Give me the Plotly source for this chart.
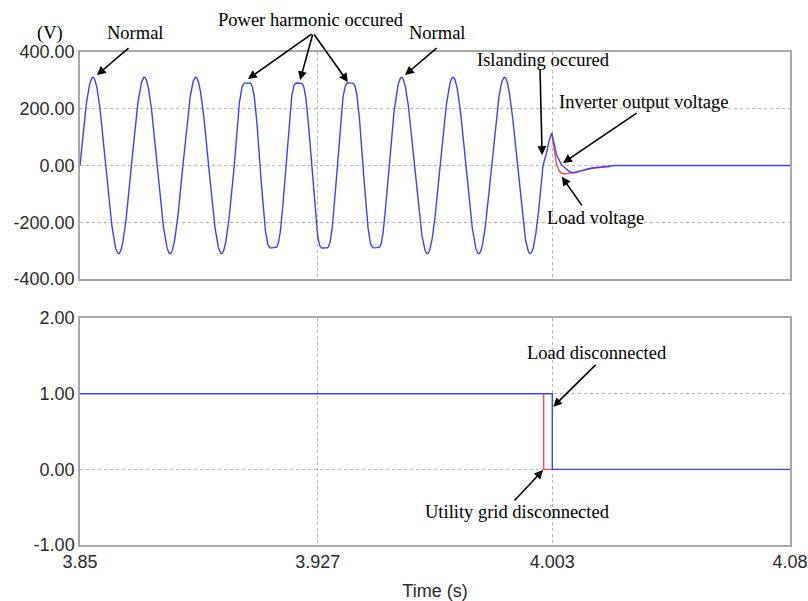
import numpy as np
import plotly.graph_objects as go
from plotly.subplots import make_subplots

# ---- values ----
T_START, T_END = 3.85, 4.08
FREQ_HZ = 60.0                      # 9 cycles between 3.85 s and 4.00 s
NORMAL_AMPS = [311.0]               # fundamental peak (V)
HARM_ORDERS = [1, 3, 5]
HARM_AMPS = [326.0, 33.0, -3.0]     # distorted cycles: flat tops at ~290 V
HARM_WINDOW = [3.90, 3.95]          # cycles 4-6 carry the harmonics
ISLAND_T = 4.000                    # waveform leaves the grid sine here

# transient after islanding (read point by point)
INV_T = [4.0012, 4.0019, 4.0028, 4.0036, 4.0044, 4.0060, 4.0071, 4.0087, 4.0103, 4.0125, 4.0158, 4.0201, 4.0233, 4.0800]
INV_V = [47, 85, 115, 78, 37, 2, -9, -23, -26, -18, -9, -3, 0, 0]
# load voltage differs from the inverter output only after the peak
LOAD_T = [4.0028, 4.0036, 4.0044, 4.0055, 4.0066, 4.0093, 4.0125, 4.0168, 4.0217]
LOAD_V = [115, 59, 6, -23, -29, -26, -18, -9, -5]

# disconnect signals (red drawn below blue; only its distinct part is kept)
GRID_SW_T = [4.0002, 4.0002, 4.003]
GRID_SW_S = [1, 0, 0]
LOAD_SW_T = [3.85, 4.003, 4.08]
LOAD_SW_S = [1, 0, 0]

X_TICKS = [3.85, 3.927, 4.003, 4.08]
X_TICK_TEXT = ["3.85", "3.927", "4.003", "4.08"]
Y1_TICKS = [-400, -200, 0, 200, 400]
Y1_TEXT = ["-400.00", "-200.00", "0.00", "200.00", "400.00"]
Y2_TICKS = [-1, 0, 1, 2]
Y2_TEXT = ["-1.00", "0.00", "1.00", "2.00"]

BLUE = "#4040ff"
RED = "#ff4a4a"

# ---- build the grid-side waveform ----
t = np.linspace(T_START, ISLAND_T, 3001)
theta = 2 * np.pi * FREQ_HZ * (t - T_START)
v = NORMAL_AMPS[0] * np.sin(theta)
mask = (t >= HARM_WINDOW[0]) & (t <= HARM_WINDOW[1])
vh = sum(a * np.sin(n * theta) for n, a in zip(HARM_ORDERS, HARM_AMPS))
v = np.where(mask, vh, v)

t_inv = np.concatenate([t, INV_T])
v_inv = np.concatenate([v, INV_V])

fig = make_subplots(rows=2, cols=1, shared_xaxes=True, vertical_spacing=0.0792)

fig.add_trace(go.Scatter(x=LOAD_T, y=LOAD_V, mode="lines", line=dict(color=RED, width=1.4, shape="spline", smoothing=0.6)), row=1, col=1)
fig.add_trace(go.Scatter(x=t_inv, y=v_inv, mode="lines", line=dict(color=BLUE, width=1.4)), row=1, col=1)
fig.add_trace(go.Scatter(x=GRID_SW_T, y=GRID_SW_S, mode="lines", line=dict(color=RED, width=1.4)), row=2, col=1)
fig.add_trace(go.Scatter(x=LOAD_SW_T, y=LOAD_SW_S, mode="lines", line=dict(color=BLUE, width=1.4, shape="hv")), row=2, col=1)

tick_font = dict(family="Liberation Sans, Arial, sans-serif", size=18, color="#2a2a2a")
axis_common = dict(showline=True, mirror=True, linecolor="#a8a8a8", linewidth=1.5,
                   showgrid=True, gridcolor="#b4b4b4", gridwidth=1, griddash="dot",
                   zeroline=False, ticks="", tickfont=tick_font, automargin=False)

fig.update_xaxes(range=[T_START, T_END], tickvals=X_TICKS, ticktext=X_TICK_TEXT, **axis_common)
fig.update_xaxes(showticklabels=False, row=1, col=1)
fig.update_xaxes(title=dict(text="Time (s)", font=tick_font, standoff=14), row=2, col=1)
fig.update_yaxes(range=[-400, 400], tickvals=Y1_TICKS, ticktext=Y1_TEXT, **axis_common, row=1, col=1)
fig.update_yaxes(range=[-1, 2], tickvals=Y2_TICKS, ticktext=Y2_TEXT, **axis_common, row=2, col=1)

ann_font = dict(family="Liberation Serif, Times New Roman, serif", size=18.5, color="#000000")
anns = []

def text(s, x, y):
    anns.append(dict(text=s, x=x, y=y, xref="paper", yref="paper", showarrow=False,
                     font=ann_font, xanchor="center", yanchor="middle"))

def arrow(xt, yt, xa, ya, yax="y"):
    xax = "x" if yax == "y" else "x2"
    anns.append(dict(text="", x=xt, y=yt, ax=xa, ay=ya, xref=xax, yref=yax,
                     axref=xax, ayref=yax, showarrow=True, arrowhead=2, arrowsize=1.1,
                     arrowwidth=1.6, arrowcolor="#000000"))

text("(V)", -0.042, 1.0385)
text("Normal", 0.0775, 1.0385)
arrow(3.8555, 319, 3.8662, 418)
text("Power harmonic occured", 0.3254, 1.0649)
arrow(3.9044, 305, 3.9255, 467)
arrow(3.9213, 301, 3.9255, 467)
arrow(3.9368, 294, 3.9255, 467)
text("Normal", 0.5042, 1.0385)
arrow(3.9553, 319, 3.9660, 418)
text("Islanding occured", 0.6535, 0.9838)
arrow(3.9997, 37, 3.9990, 344)
text("Inverter output voltage", 0.7944, 0.8986)
arrow(4.0065, 9, 4.0308, 188)
text("Load voltage", 0.7254, 0.6633)
arrow(4.0061, -40, 4.0129, -146)
text("Load disconnected", 0.7282, 0.3895)
arrow(4.0033, 0.828, 4.0175, 1.401, yax="y2")
text("Utility grid disconnected", 0.6155, 0.0669)
arrow(4.0000, -0.009, 3.9903, -0.432, yax="y2")

fig.update_layout(width=808, height=601, margin=dict(l=80, r=18, t=52, b=56),
                  paper_bgcolor="white", plot_bgcolor="white", showlegend=False,
                  annotations=anns)

fig.write_html("out.html")
